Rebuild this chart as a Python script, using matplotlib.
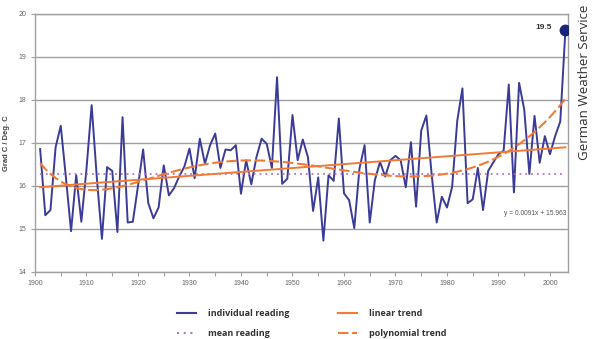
import numpy as np
import matplotlib
matplotlib.use("Agg")
from matplotlib import pyplot as plt
from matplotlib.lines import Line2D

# yearly readings
years = list(range(1901, 2004))
temps = [16.86, 15.32, 15.44, 16.90, 17.40, 16.20, 14.95, 16.25, 15.17, 16.40,
         17.88, 16.20, 14.77, 16.44, 16.35, 14.93, 17.60, 15.15, 15.17, 16.00,
         16.85, 15.60, 15.25, 15.50, 16.48, 15.78, 15.95, 16.22, 16.45, 16.87,
         16.18, 17.10, 16.52, 16.95, 17.22, 16.42, 16.85, 16.83, 16.95, 15.82,
         16.60, 16.04, 16.67, 17.10, 16.98, 16.42, 18.53, 16.05, 16.17, 17.65,
         16.60, 17.08, 16.67, 15.42, 16.20, 14.73, 16.25, 16.12, 17.57, 15.83,
         15.67, 15.02, 16.40, 16.95, 15.15, 16.14, 16.56, 16.22, 16.60, 16.70,
         16.60, 15.97, 17.02, 15.52, 17.29, 17.64, 16.30, 15.15, 15.75, 15.50,
         15.98, 17.52, 18.27, 15.60, 15.69, 16.42, 15.44, 16.35, 16.55, 16.74,
         16.82, 18.36, 15.85, 18.40, 17.78, 16.28, 17.63, 16.54, 17.16, 16.74,
         17.16, 17.50, 19.63]
mean_reading = 16.28
lin_slope = 0.0091       # from the printed trend equation
lin_icpt = 15.963
last_label = "19.5"
xticks = list(range(1900, 2001, 10))
yticks = [14, 15, 16, 17, 18, 19, 20]

blue = '#3b3b98'
orange = '#f27a35'
purple = '#b474c8'
grey = '#a0a0a0'
txt = '#555555'

W, H = 595, 339
fig = plt.figure(figsize=(W/100, H/100), dpi=100)
ax = fig.add_axes([35/W, 1-272/H, 533/W, 258/H])

idx = np.arange(1, len(years)+1)
yrs = np.array(years)
lin = lin_slope*idx + lin_icpt
poly = np.polynomial.Polynomial.fit(idx, temps, 6)(idx)

ax.plot(yrs, temps, color=blue, lw=1.4, zorder=3)
ax.plot([yrs[0], yrs[-1]], [mean_reading, mean_reading], color=purple, lw=1.3,
        linestyle=(0, (1, 2.2)), zorder=4)
ax.plot(yrs, lin, color=orange, lw=1.4, zorder=5)
ax.plot(yrs, poly, color=orange, lw=1.5, linestyle=(0, (5, 1.8)), zorder=5)
ax.plot(yrs[-1], temps[-1], 'o', color='#1c237a', ms=7.5, zorder=6)
ax.text(yrs[-1]-2.6, temps[-1]+0.05, last_label, ha='right', va='center',
        fontsize=6, fontweight='bold', color='#333333', family='Liberation Sans')
ax.text(2003.2, 15.35, "y = 0.0091x + 15.963", ha='right', va='center',
        fontsize=4.8, color=txt, family='Liberation Sans')

ax.set_xlim(1900, 2003.5)
ax.set_ylim(14, 20)
ax.set_xticks(xticks)
ax.set_xticks(range(1905, 2001, 10), minor=True)
ax.set_yticks(yticks)
ax.grid(True, axis='y', color=grey, lw=1.0)
ax.set_axisbelow(True)
for s in ax.spines.values():
    s.set_color(grey)
    s.set_linewidth(1.0)
ax.tick_params(axis='both', which='both', length=3, color=grey, width=0.8,
               labelsize=5, labelcolor='#666666', pad=3)
for lab in ax.get_xticklabels() + ax.get_yticklabels():
    lab.set_family('Liberation Sans')
ax.set_ylabel('Grad C / Deg. C', fontsize=5.5, fontweight='bold', color='#444444',
              family='Liberation Sans', labelpad=6)

fig.text(585/W, 1-5/H, 'German Weather Service', rotation=90, ha='center', va='top',
         fontsize=9.6, color='#333333', family='Open Sans')

handles = [Line2D([], [], color=blue, lw=1.5),
           Line2D([], [], color=purple, lw=1.5, linestyle=(0, (1, 2.2))),
           Line2D([], [], color=orange, lw=1.5),
           Line2D([], [], color=orange, lw=1.5, linestyle=(0, (5, 1.8)))]
labels = ['individual reading', 'mean reading', 'linear trend', 'polynomial trend']
leg = fig.legend(handles, labels, ncol=2, loc='upper left', bbox_to_anchor=(177/W, 1-309/H),
                 frameon=False, borderpad=0, borderaxespad=0, handlelength=2.1,
                 handletextpad=1.33, columnspacing=5.4, labelspacing=1.2,
                 prop={'family': 'Open Sans', 'weight': 'bold', 'size': 6.5})
for t in leg.get_texts():
    t.set_color('#333333')

fig.savefig('out.png', dpi=100)
